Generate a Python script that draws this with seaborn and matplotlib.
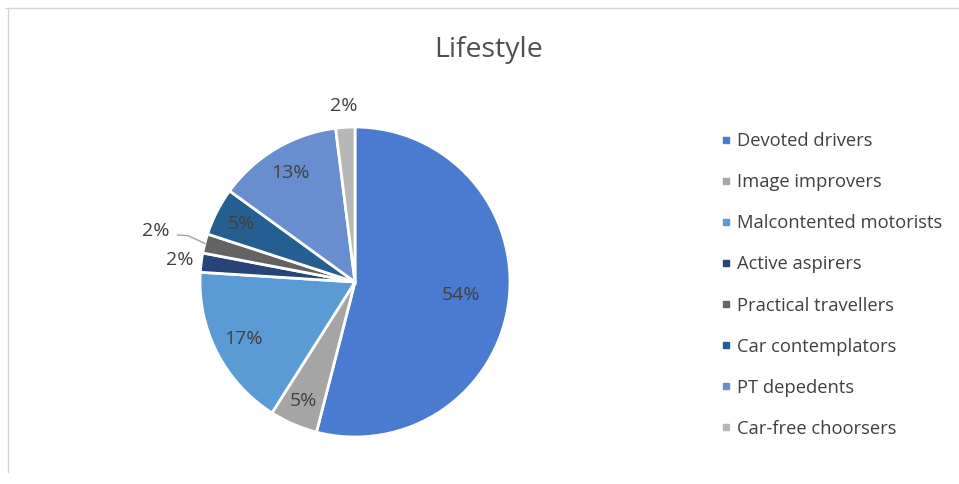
import matplotlib
matplotlib.use("Agg")
import numpy as np
import seaborn as sns
import matplotlib.pyplot as plt
from matplotlib.lines import Line2D

# dane
segments = ["Devoted drivers", "Image improvers", "Malcontented motorists", "Active aspirers",
            "Practical travellers", "Car contemplators", "PT depedents", "Car-free choorsers"]
shares = [54, 5, 17, 2, 2, 5, 13, 2]
colors = ["#4a7bd0", "#a5a5a5", "#5b9bd5", "#264478", "#636363", "#255e91", "#698ed0", "#b7b7b7"]

sns.set_theme(style="white")
plt.rcParams['font.family'] = ['Open Sans', 'DejaVu Sans']

fig = plt.figure(figsize=(9.59, 4.84), dpi=100)
W, H = 959, 484
cx, cy, r = 355, 282, 155
ax = fig.add_axes([(cx - r) / W, (H - cy - r) / H, 2 * r / W, 2 * r / H])

wedges, _ = ax.pie(shares, colors=colors, startangle=90, counterclock=False,
                   wedgeprops=dict(edgecolor="white", linewidth=2))
ax.set_xlim(-1, 1)
ax.set_ylim(-1, 1)
ax.set_aspect("equal")
ax.axis("off")

# etykiety: odległość od środka dla każdego wycinka
dist = [0.69, 0.84, 0.81, 1.14, 1.33, 0.82, 0.82, 1.14]
for w, v, d in zip(wedges, shares, dist):
    ang = np.deg2rad((w.theta1 + w.theta2) / 2)
    x, y = d * np.cos(ang), d * np.sin(ang)
    ax.text(x, y, f"{v}%", ha="center", va="center", fontsize=14,
            color="#404040", clip_on=False)

# linia odniesienia dla Practical travellers
w = wedges[4]
ang = np.deg2rad((w.theta1 + w.theta2) / 2)
p0 = (1.0 * np.cos(ang), 1.0 * np.sin(ang))
p1 = (1.08 * np.cos(ang) - 0.03, 1.08 * np.sin(ang) + 0.03)
p2 = (p1[0] - 0.07, p1[1] + 0.005)
ax.plot([p0[0], p1[0], p2[0]], [p0[1], p1[1], p2[1]], color="#a0a0a0", lw=1, clip_on=False)

fig.text(489 / W, 1 - 50 / H, "Lifestyle", ha="center", va="center", fontsize=20.5, color="#505050")

handles = [Line2D([], [], marker="s", linestyle="none", markersize=5, color=c) for c in colors]
leg = fig.legend(handles, segments, loc="upper left", bbox_to_anchor=(712 / W, 1 - 123 / H),
                 frameon=False, fontsize=13.2, labelspacing=1.26, handlelength=0.5,
                 handletextpad=0.35, borderpad=0)
for t in leg.get_texts():
    t.set_color("#404040")

# ramka wykresu
fig.add_artist(Line2D([5 / W, 1], [1 - 8 / H, 1 - 8 / H], color="#d4d4d4", lw=1))
fig.add_artist(Line2D([8 / W, 8 / W], [1 - 8 / H, 1 - 472 / H], color="#d4d4d4", lw=1))

fig.savefig("out.png", dpi=100)
